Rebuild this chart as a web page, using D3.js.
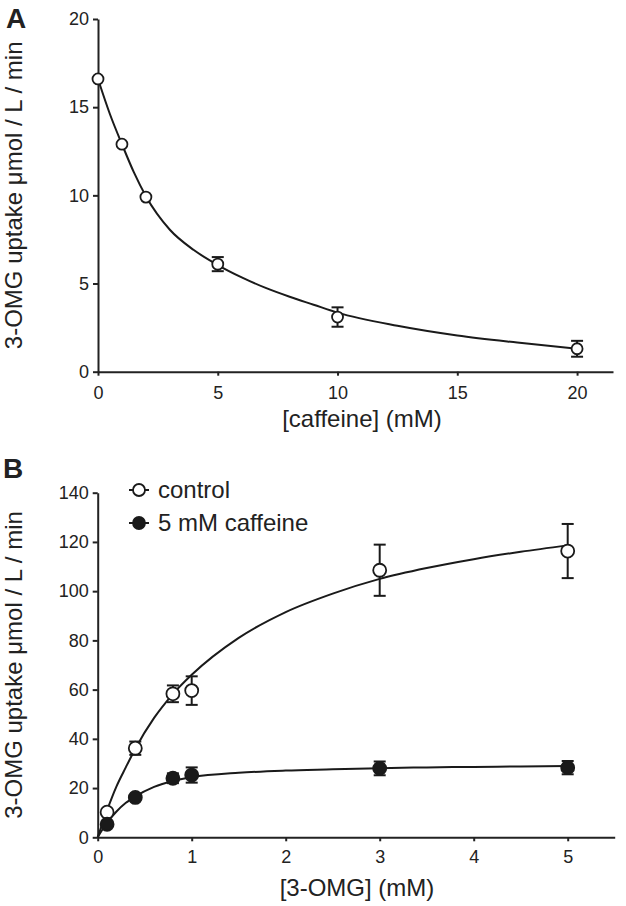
<!DOCTYPE html>
<html>
<head>
<meta charset="utf-8">
<script src="https://cdn.jsdelivr.net/npm/d3@7"></script>
<style>
  body { margin: 0; background: #fff; }
  text { font-family: "Liberation Sans", Arial, sans-serif; fill: #222; }
  .tick text { font-size: 18px; }
  .axis path, .axis line { stroke: #222; stroke-width: 2; }
</style>
</head>
<body>
<script>
// ---- panel A data: uptake vs caffeine
var caffeineX   = [0, 1, 2, 5, 10, 20];
var caffeineY   = [16.6, 12.9, 9.9, 6.1, 3.1, 1.3];
var caffeineErr = [0, 0, 0, 0.4, 0.55, 0.45];
// fitted curve
var fitAx = [0, 0.5, 1, 1.5, 2, 3, 4, 5, 6, 7, 8, 9, 10, 12.5, 15, 17.5, 20];
var fitAy = [16.6, 14.6, 12.9, 11.3, 9.95, 8.05, 6.9, 6.05, 5.35, 4.75, 4.25, 3.8, 3.35, 2.6, 2.05, 1.65, 1.3];
var ticksAx = [0, 5, 10, 15, 20];
var ticksAy = [0, 5, 10, 15, 20];

// ---- panel B data: uptake vs 3-OMG
var omgX       = [0.1, 0.4, 0.8, 1, 3, 5];
var controlY   = [10.2, 36.2, 58.3, 59.6, 108.5, 116.3];
var controlErr = [0, 2.7, 3.4, 5.8, 10.4, 11];
var caffY      = [5.3, 16.2, 24.0, 25.3, 28.0, 28.3];
var caffErr    = [0, 0, 2, 3.1, 2.8, 2.7];
// fitted curves
var fitBx        = [0, 0.1, 0.2, 0.3, 0.4, 0.6, 0.8, 1, 1.5, 2, 2.5, 3, 3.5, 4, 4.5, 5];
var fitControlY  = [0, 11, 20.7, 28.5, 36, 48.5, 58.2, 66, 81, 91.5, 99, 105, 109.4, 113, 116, 118.6];
var fitCaffY     = [0, 6, 10.5, 14, 16.6, 20.5, 22.9, 24.4, 26.2, 27.1, 27.6, 28.1, 28.4, 28.6, 28.8, 29.0];
var ticksBx = [0, 1, 2, 3, 4, 5];
var ticksBy = [0, 20, 40, 60, 80, 100, 120, 140];

var seriesB = [
    {name: "control", y: controlY, err: controlErr, fit: fitControlY, fill: "#fff"},
    {name: "5 mM caffeine", y: caffY, err: caffErr, fit: fitCaffY, fill: "#1a1a1a"}
];

var width = 626, height = 906;

var svg = d3.select("body")
    .append("svg")
    .attr("width", width)
    .attr("height", height);

// scales
var xA = d3.scaleLinear().domain([0, 21.5]).range([98, 613]);
var yA = d3.scaleLinear().domain([0, 20]).range([371.7, 19]);
var xB = d3.scaleLinear().domain([0, 5.5]).range([97.7, 614.7]);
var yB = d3.scaleLinear().domain([0, 140]).range([837.3, 492.7]);

function drawAxes(x, y, xt, yt, xPad) {
    svg.append("g")
        .attr("class", "axis")
        .attr("transform", "translate(0," + y(0) + ")")
        .call(d3.axisBottom(x).tickValues(xt).tickSize(4).tickSizeOuter(0).tickPadding(xPad).tickFormat(d3.format("d")));
    svg.append("g")
        .attr("class", "axis")
        .attr("transform", "translate(" + x(0) + ",0)")
        .call(d3.axisLeft(y).tickValues(yt).tickSize(5).tickSizeOuter(0).tickPadding(4).tickFormat(d3.format("d")));
}

function drawPoints(x, y, xs, ys, errs, fill, r) {
    var g = svg.append("g");
    var pts = xs.map(function(d, i) { return {x: d, y: ys[i], e: errs[i]}; });
    var eb = g.selectAll(".eb").data(pts.filter(function(d) { return d.e > 0; })).enter();
    eb.append("line")
        .attr("x1", function(d) { return x(d.x); })
        .attr("x2", function(d) { return x(d.x); })
        .attr("y1", function(d) { return y(d.y - d.e); })
        .attr("y2", function(d) { return y(d.y + d.e); })
        .attr("stroke", "#1a1a1a").attr("stroke-width", 2);
    [-1, 1].forEach(function(s) {
        eb.append("line")
            .attr("x1", function(d) { return x(d.x) - 6; })
            .attr("x2", function(d) { return x(d.x) + 6; })
            .attr("y1", function(d) { return y(d.y + s * d.e); })
            .attr("y2", function(d) { return y(d.y + s * d.e); })
            .attr("stroke", "#1a1a1a").attr("stroke-width", 2);
    });
    g.selectAll("circle")
        .data(pts)
        .enter()
        .append("circle")
        .attr("cx", function(d) { return x(d.x); })
        .attr("cy", function(d) { return y(d.y); })
        .attr("r", r)
        .attr("fill", fill)
        .attr("stroke", "#1a1a1a")
        .attr("stroke-width", 1.8);
}

function drawFit(x, y, xs, ys) {
    var line = d3.line()
        .x(function(d) { return x(d[0]); })
        .y(function(d) { return y(d[1]); })
        .curve(d3.curveMonotoneX);
    svg.append("path")
        .datum(xs.map(function(d, i) { return [d, ys[i]]; }))
        .attr("d", line)
        .attr("fill", "none")
        .attr("stroke", "#1a1a1a")
        .attr("stroke-width", 2);
}

// ---- panel A
drawAxes(xA, yA, ticksAx, ticksAy, 11);
drawFit(xA, yA, fitAx, fitAy);
drawPoints(xA, yA, caffeineX, caffeineY, caffeineErr, "#fff", 5.5);

svg.append("text")
    .attr("x", 362).attr("y", 427)
    .attr("text-anchor", "middle")
    .style("font-size", "24px")
    .text("[caffeine] (mM)");

svg.append("text")
    .attr("transform", "translate(22," + (yA(0) + yA(20)) / 2 + ") rotate(-90)")
    .attr("text-anchor", "middle")
    .style("font-size", "24px")
    .text("3-OMG uptake \u03bcmol / L / min");

svg.append("text")
    .attr("x", 6).attr("y", 28)
    .style("font-size", "28px").style("font-weight", "bold")
    .text("A");

// ---- panel B
drawAxes(xB, yB, ticksBx, ticksBy, 9);
seriesB.forEach(function(s) { drawFit(xB, yB, fitBx, s.fit); });
seriesB.forEach(function(s) { drawPoints(xB, yB, omgX, s.y, s.err, s.fill, 6.5); });

svg.append("text")
    .attr("x", 357).attr("y", 896)
    .attr("text-anchor", "middle")
    .style("font-size", "24px")
    .text("[3-OMG] (mM)");

svg.append("text")
    .attr("transform", "translate(22," + (yB(0) + yB(140)) / 2 + ") rotate(-90)")
    .attr("text-anchor", "middle")
    .style("font-size", "24px")
    .text("3-OMG uptake \u03bcmol / L / min");

svg.append("text")
    .attr("x", 3).attr("y", 478)
    .style("font-size", "28px").style("font-weight", "bold")
    .text("B");

// legend
var legend = svg.append("g")
    .selectAll("g")
    .data(seriesB)
    .enter()
    .append("g")
    .attr("transform", function(d, i) { return "translate(139," + (490 + i * 33) + ")"; });

legend.append("line")
    .attr("x1", -10).attr("x2", 10)
    .attr("stroke", "#1a1a1a").attr("stroke-width", 2);
legend.append("circle")
    .attr("r", 6)
    .attr("fill", function(d) { return d.fill; })
    .attr("stroke", "#1a1a1a").attr("stroke-width", 1.8);
legend.append("text")
    .attr("x", 19).attr("y", 8)
    .style("font-size", "24px")
    .text(function(d) { return d.name; });
</script>
</body>
</html>
